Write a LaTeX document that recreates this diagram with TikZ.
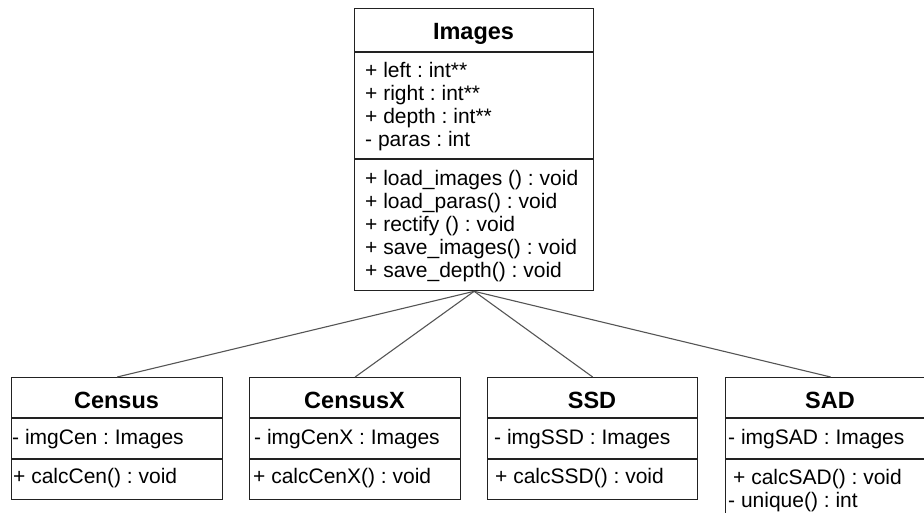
\documentclass[tikz,border=0pt]{standalone}
\usepackage{fontspec}
\setmainfont{Liberation Sans}
\frenchspacing
\definecolor{boxline}{HTML}{222222}
\definecolor{linkgray}{HTML}{555555}
\begin{document}
\begin{tikzpicture}[x=1pt,y=-1pt,
  classbox/.style={draw=boxline, line width=1.3pt, fill=white, inner sep=0pt,
    anchor=north west, minimum width=211pt, minimum height=122pt},
  divider/.style={draw=boxline, line width=1.3pt},
  link/.style={draw=linkgray, line width=1.1pt},
  title/.style={inner sep=0pt, anchor=base, font=\fontsize{23.5}{27}\selectfont\bfseries},
  member/.style={inner sep=0pt, anchor=base west, font=\fontsize{21}{24}\selectfont}]
\useasboundingbox (0,0) rectangle (924,512);
\clip (0,0) rectangle (924,512);

% class boxes
\node[classbox, minimum width=239pt, minimum height=282pt] (images) at (354,8) {};
\node[classbox] (census)  at (11,377)  {};
\node[classbox] (censusx) at (249,377) {};
\node[classbox, minimum width=210pt] (ssd) at (487,377) {};
\node[classbox, minimum width=210pt, minimum height=146pt] (sad) at (725,377) {};

% compartment dividers
\draw[divider] (354,52) -- (593,52);
\draw[divider] (354,159) -- (593,159);
\foreach \l/\r in {11/222, 249/460, 487/697, 725/935} {
  \draw[divider] (\l,418) -- (\r,418);
  \draw[divider] (\l,459) -- (\r,459);
}

% generalisation links
\draw[link] (images.south) -- (census.north);
\draw[link] (images.south) -- (censusx.north);
\draw[link] (images.south) -- (ssd.north);
\draw[link] (images.south) -- (sad.north);

% Images
\node[title] (tImages) at (473.5,39) {Images};
\node[member] (iA1) at (365,77)  {+ left : int**};
\node[member] (iA2) at (365,100) {+ right : int**};
\node[member] (iA3) at (365,123) {+ depth : int**};
\node[member] (iA4) at (365,146) {- paras : int};
\node[member] (iM1) at (365,185) {+ load\_images () : void};
\node[member] (iM2) at (365,208) {+ load\_paras() : void};
\node[member] (iM3) at (365,231) {+ rectify () : void};
\node[member] (iM4) at (365,254) {+ save\_images() : void};
\node[member] (iM5) at (365,277) {+ save\_depth() : void};

% Census
\node[title] (tCensus) at (116.5,408) {Census};
\node[member] (cA1) at (12,444) {- imgCen : Images};
\node[member] (cM1) at (13,483) {+ calcCen() : void};

% CensusX
\node[title] (tCensusX) at (354.5,408) {CensusX};
\node[member] (xA1) at (254,444) {- imgCenX : Images};
\node[member] (xM1) at (253,483) {+ calcCenX() : void};

% SSD
\node[title] (tSSD) at (592,408) {SSD};
\node[member] (sA1) at (494,444) {- imgSSD : Images};
\node[member] (sM1) at (495,483) {+ calcSSD() : void};

% SAD
\node[title] (tSAD) at (830,408) {SAD};
\node[member] (dA1) at (728,444) {- imgSAD : Images};
\node[member] (dM1) at (733,484) {+ calcSAD() : void};
\node[member] (dM2) at (728,507) {- unique() : int};
\end{tikzpicture}
\end{document}
